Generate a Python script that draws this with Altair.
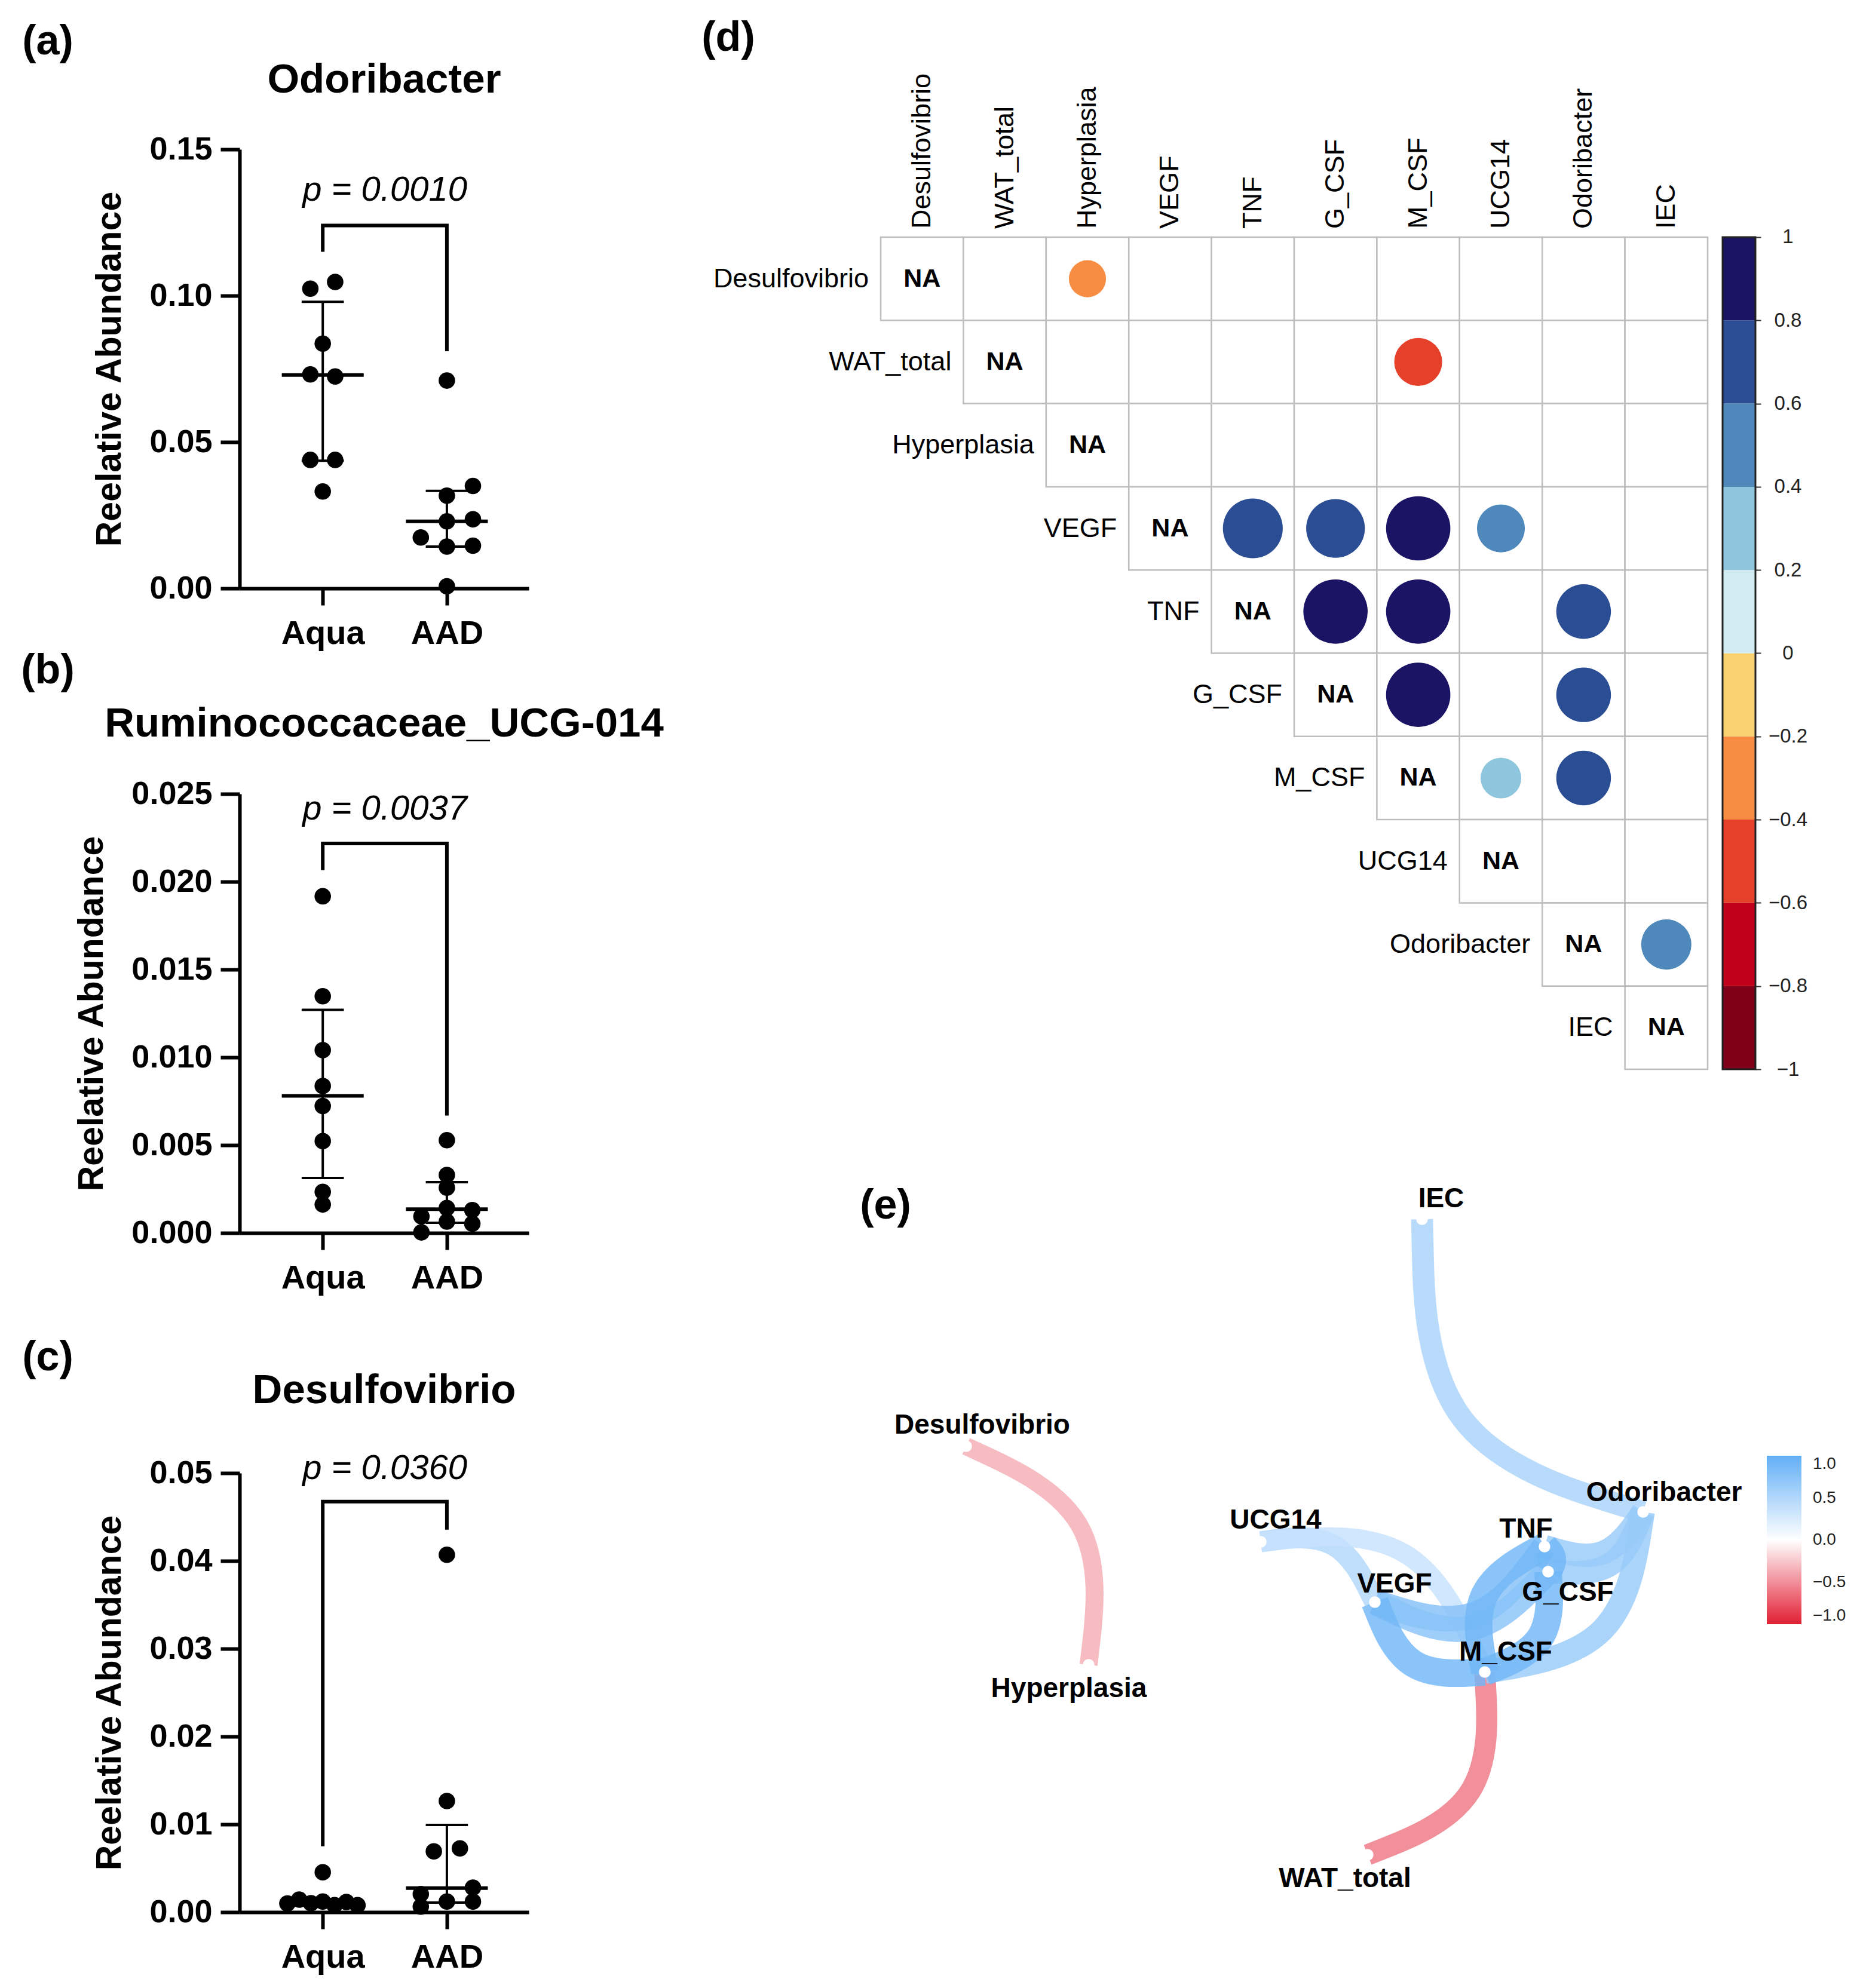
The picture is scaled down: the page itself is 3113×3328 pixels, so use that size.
import altair as alt
import pandas as pd

FONT = "Liberation Sans"
BLACK = "#000000"

# ---------------- (a)-(c) relative abundance ----------------
GROUP_LABELS = ["Aqua", "AAD"]
Y_TITLE = "Reelative Abundance"

# (a) Odoribacter
a_aqua = [0.1024, 0.1047, 0.0836, 0.0731, 0.0724, 0.0439, 0.0439, 0.0331]
a_aqua_jit = [-0.10, 0.10, 0.00, -0.10, 0.10, -0.10, 0.10, 0.00]
a_aad = [0.0710, 0.0350, 0.0317, 0.0229, 0.0236, 0.0174, 0.0143, 0.0146, 0.0007]
a_aad_jit = [0.00, 0.21, 0.00, 0.00, 0.21, -0.21, 0.00, 0.21, 0.00]
a_median = [0.0729, 0.0229]
a_q1 = [0.0436, 0.0143]
a_q3 = [0.0979, 0.0333]
a_bracket = [0.1150, 0.1240, 0.0810]
a_ptext, a_py = "p = 0.0010", 0.1360
a_ticks = [0.0, 0.05, 0.10, 0.15]

# (b) Ruminococcaceae_UCG-014
b_aqua = [0.01917, 0.01348, 0.01041, 0.00837, 0.00723, 0.00523, 0.00234, 0.00162]
b_aqua_jit = [0, 0, 0, 0, 0, 0, 0, 0]
b_aad = [0.00528, 0.00330, 0.00258, 0.00142, 0.00130, 0.00094, 0.00065, 0.00053, 0.00003]
b_aad_jit = [0.0, 0.0, 0.0, 0.0, 0.205, -0.205, 0.0, 0.205, -0.205]
b_median = [0.00781, 0.00135]
b_q1 = [0.00313, 0.00058]
b_q3 = [0.01270, 0.00289]
b_bracket = [0.02066, 0.02218, 0.00668]
b_ptext, b_py = "p = 0.0037", 0.0241
b_ticks = [0.0, 0.005, 0.010, 0.015, 0.020, 0.025]

# (c) Desulfovibrio
c_aqua = [0.00454, 0.00098, 0.00143, 0.00102, 0.00120, 0.00079, 0.00116, 0.00079]
c_aqua_jit = [0.0, -0.285, -0.19, -0.095, 0.0, 0.095, 0.19, 0.28]
c_aad = [0.0407, 0.01265, 0.00692, 0.00726, 0.00279, 0.00206, 0.00120, 0.00120, 0.00063]
c_aad_jit = [0.0, 0.0, -0.105, 0.105, 0.21, -0.21, 0.0, 0.21, -0.21]
c_median = [0.00120, 0.00274]
c_q1 = [0.00095, 0.00109]
c_q3 = [0.00140, 0.00993]
c_bracket = [0.0075, 0.04675, 0.04355]
c_ptext, c_py = "p = 0.0360", 0.0505
c_ticks = [0.0, 0.01, 0.02, 0.03, 0.04, 0.05]


def text_layer(txt, x, y, size, weight="bold", style="normal", align="center"):
    return alt.Chart(pd.DataFrame({"t": [txt]})).mark_text(
        font=FONT, fontSize=size, fontWeight=weight, fontStyle=style,
        color=BLACK, align=align, baseline="middle"
    ).encode(x=alt.value(x), y=alt.value(y), text="t:N")


def scatter_panel(letter, title, ticks, fmt, aqua, aqua_jit, aad, aad_jit,
                  med, q1, q3, bracket, ptext, py, letter_y, title_y):
    W, H = 484, 735
    xs = alt.Scale(domain=[0.33, 2.66], nice=False, zero=False)
    ys = alt.Scale(domain=[ticks[0], ticks[-1]], nice=False, zero=False)
    pts = pd.DataFrame({
        "x": [1 + j for j in aqua_jit] + [2 + j for j in aad_jit],
        "y": list(aqua) + list(aad),
    })
    summ = pd.DataFrame({"g": [1, 2], "med": med, "q1": q1, "q3": q3})
    summ["mlo"] = summ["g"] - 0.33
    summ["mhi"] = summ["g"] + 0.33
    caps = pd.DataFrame({"g": [1, 2, 1, 2], "v": list(q1) + list(q3)})
    caps["lo"] = caps["g"] - 0.17
    caps["hi"] = caps["g"] + 0.17
    br = pd.DataFrame({"x": [1, 1, 2, 2],
                       "y": [bracket[0], bracket[1], bracket[1], bracket[2]],
                       "o": [0, 1, 2, 3]})
    ptab = pd.DataFrame({"x": [1.5], "y": [py], "t": [ptext]})

    xaxis = alt.Axis(values=[1, 2],
                     labelExpr=f"datum.value == 1 ? '{GROUP_LABELS[0]}' : '{GROUP_LABELS[1]}'",
                     title=None, grid=False, domainColor=BLACK, domainWidth=6,
                     tickColor=BLACK, tickWidth=6, tickSize=28, labelFont=FONT,
                     labelFontWeight="bold", labelFontSize=56, labelColor=BLACK,
                     labelPadding=20, labelFlush=False, labelOverlap=False)
    yaxis = alt.Axis(values=ticks, format=fmt, title=Y_TITLE, grid=False,
                     domainColor=BLACK, domainWidth=6, tickColor=BLACK, tickWidth=6,
                     tickSize=32, labelFont=FONT, labelFontWeight="bold",
                     labelFontSize=54, labelColor=BLACK, labelPadding=14,
                     labelFlush=False, labelOverlap=False,
                     titleFont=FONT, titleFontWeight="bold", titleFontSize=59,
                     titleColor=BLACK, titlePadding=36)

    def X(f):
        return alt.X(f, scale=xs, axis=xaxis)

    def Y(f):
        return alt.Y(f, scale=ys, axis=yaxis)

    dots = alt.Chart(pts).mark_circle(size=760, color=BLACK, opacity=1).encode(
        x=X("x:Q"), y=Y("y:Q"))
    medl = alt.Chart(summ).mark_rule(color=BLACK, strokeWidth=6).encode(
        x=X("mlo:Q"), x2="mhi:Q", y=Y("med:Q"))
    whisk = alt.Chart(summ).mark_rule(color=BLACK, strokeWidth=4).encode(
        x=X("g:Q"), y=Y("q1:Q"), y2="q3:Q")
    capl = alt.Chart(caps).mark_rule(color=BLACK, strokeWidth=4).encode(
        x=X("lo:Q"), x2="hi:Q", y=Y("v:Q"))
    brl = alt.Chart(br).mark_line(color=BLACK, strokeWidth=6, strokeJoin="miter",
                                  strokeCap="butt").encode(
        x=X("x:Q"), y=Y("y:Q"), order="o:Q")
    ptx = alt.Chart(ptab).mark_text(font=FONT, fontSize=58, fontStyle="italic",
                                    color=BLACK, baseline="middle").encode(
        x=X("x:Q"), y=Y("y:Q"), text="t:N")
    ttl = text_layer(title, 242, title_y, 69)
    let = text_layer(letter, -321, letter_y, 70)
    return alt.layer(brl, whisk, capl, medl, dots, ptx, ttl, let).properties(width=W, height=H)


pa = scatter_panel("(a)", "Odoribacter", a_ticks, ".2f", a_aqua, a_aqua_jit, a_aad, a_aad_jit,
                   a_median, a_q1, a_q3, a_bracket, a_ptext, a_py, -180, -116)
pb = scatter_panel("(b)", "Ruminococcaceae_UCG-014", b_ticks, ".3f", b_aqua, b_aqua_jit, b_aad,
                   b_aad_jit, b_median, b_q1, b_q3, b_bracket, b_ptext, b_py, -206, -117)
pc = scatter_panel("(c)", "Desulfovibrio", c_ticks, ".2f", c_aqua, c_aqua_jit, c_aad, c_aad_jit,
                   c_median, c_q1, c_q3, c_bracket, c_ptext, c_py, -193, -138)

# ---------------- (d) correlation matrix ----------------
corr_vars = ["Desulfovibrio", "WAT_total", "Hyperplasia", "VEGF", "TNF", "G_CSF",
             "M_CSF", "UCG14", "Odoribacter", "IEC"]
corr_row = ["Desulfovibrio", "WAT_total", "VEGF", "VEGF", "VEGF", "VEGF", "TNF", "TNF",
            "TNF", "G_CSF", "G_CSF", "M_CSF", "M_CSF", "Odoribacter"]
corr_col = ["Hyperplasia", "M_CSF", "TNF", "G_CSF", "M_CSF", "UCG14", "G_CSF", "M_CSF",
            "Odoribacter", "M_CSF", "Odoribacter", "UCG14", "Odoribacter", "IEC"]
corr_r = [-0.30, -0.50, 0.78, 0.75, 0.90, 0.50, 0.90, 0.90, 0.65, 0.90, 0.65, 0.36, 0.65, 0.55]

cbar_lo = [-1.0, -0.8, -0.6, -0.4, -0.2, 0.0, 0.2, 0.4, 0.6, 0.8]
cbar_hi = [-0.8, -0.6, -0.4, -0.2, 0.0, 0.2, 0.4, 0.6, 0.8, 1.0]
cbar_colors = ["#7F0019", "#C00019", "#E5402A", "#F68D42", "#F8D26F",
               "#D3ECF3", "#8DC6DD", "#4F89BB", "#2B4D94", "#1B1464"]
cbar_ticks = [-1, -0.8, -0.6, -0.4, -0.2, 0, 0.2, 0.4, 0.6, 0.8, 1]

n = len(corr_vars)
idx = {v: i for i, v in enumerate(corr_vars)}
dxs = alt.Scale(domain=[0, n], nice=False, zero=False)
dys = alt.Scale(domain=[-1.055, n], nice=False, zero=False, reverse=True)

cells = pd.DataFrame([{"c0": j, "c1": j + 1, "r0": i, "r1": i + 1}
                      for i in range(n) for j in range(i, n)])
circ = pd.DataFrame({"cx": [idx[c] + 0.5 for c in corr_col],
                     "cy": [idx[r] + 0.5 for r in corr_row],
                     "r": corr_r, "absr": [abs(v) for v in corr_r]})
diag = pd.DataFrame({"x": [i + 0.5 for i in range(n)], "y": [i + 0.5 for i in range(n)],
                     "t": ["NA"] * n})
rowlab = pd.DataFrame({"x": [float(i) for i in range(n)], "y": [i + 0.5 for i in range(n)],
                       "t": corr_vars})
collab = pd.DataFrame({"x": [i + 0.5 for i in range(n)], "y": [0.0] * n, "t": corr_vars})

grid = alt.Chart(cells).mark_rect(fill="white", stroke="#BDBDBD", strokeWidth=2.5).encode(
    x=alt.X("c0:Q", scale=dxs, axis=None), x2="c1:Q",
    y=alt.Y("r0:Q", scale=dys, axis=None), y2="r1:Q")
dots_d = alt.Chart(circ).mark_circle(opacity=1).encode(
    x=alt.X("cx:Q", scale=dxs, axis=None),
    y=alt.Y("cy:Q", scale=dys, axis=None),
    size=alt.Size("absr:Q", scale=alt.Scale(domain=[0, 1], range=[0, 12870]), legend=None),
    color=alt.Color("r:Q", scale=alt.Scale(type="threshold", domain=cbar_lo[1:],
                                           range=cbar_colors), legend=None))
na_t = alt.Chart(diag).mark_text(font=FONT, fontSize=43, fontWeight="bold", color=BLACK,
                                 baseline="middle").encode(
    x=alt.X("x:Q", scale=dxs, axis=None), y=alt.Y("y:Q", scale=dys, axis=None), text="t:N")
row_t = alt.Chart(rowlab).mark_text(font=FONT, fontSize=45, color=BLACK, align="right",
                                    baseline="middle", dx=-20).encode(
    x=alt.X("x:Q", scale=dxs, axis=None), y=alt.Y("y:Q", scale=dys, axis=None), text="t:N")
col_t = alt.Chart(collab).mark_text(font=FONT, fontSize=45, color=BLACK, align="left",
                                    baseline="middle", angle=270, dx=14).encode(
    x=alt.X("x:Q", scale=dxs, axis=None), y=alt.Y("y:Q", scale=dys, axis=None), text="t:N")
let_d = text_layer("(d)", -255, -186, 70)
pd_ = alt.layer(grid, dots_d, na_t, row_t, col_t, let_d).properties(width=1384, height=1540)

cbdf = pd.DataFrame({"lo": cbar_lo, "hi": cbar_hi, "col": cbar_colors})
cby = alt.Scale(domain=[-1, 1.211], nice=False, zero=False)
cb_axis = alt.Axis(orient="right", values=cbar_ticks, format="~g", title=None,
                   domain=False, grid=False, tickColor="#333", tickWidth=2,
                   tickSize=9, labelFont=FONT, labelFontSize=33, labelColor="#222",
                   labelAlign="center", labelPadding=45, labelFlush=False,
                   labelOverlap=False)
cb_rect = alt.Chart(cbdf).mark_rect().encode(
    y=alt.Y("lo:Q", scale=cby, axis=cb_axis),
    y2="hi:Q", fill=alt.Fill("col:N", scale=None))
cb_box = alt.Chart(pd.DataFrame({"lo": [-1.0], "hi": [1.0]})).mark_rect(
    fillOpacity=0, stroke="#222", strokeWidth=3).encode(
    y=alt.Y("lo:Q", scale=cby, axis=cb_axis), y2="hi:Q")
cbar = alt.layer(cb_rect, cb_box).properties(width=55, height=1540)

# ---------------- (e) correlation network ----------------
net_nodes = ["IEC", "Odoribacter", "TNF", "G_CSF", "VEGF", "M_CSF", "UCG14",
             "Desulfovibrio", "Hyperplasia", "WAT_total"]
net_x = [9.06, 12.76, 11.11, 11.17, 8.27, 10.11, 6.36, 1.43, 3.48, 8.15]
net_y = [11.60, 6.70, 6.12, 5.70, 5.19, 4.02, 6.20, 7.80, 4.14, 0.96]
lab_x = [9.38, 13.11, 10.80, 11.50, 8.60, 10.46, 6.61, 1.70, 3.15, 7.77]
lab_y = [11.94, 7.02, 6.41, 5.35, 5.49, 4.35, 6.56, 8.15, 3.74, 0.56]
edge_from = ["Desulfovibrio", "M_CSF", "Odoribacter", "Odoribacter", "Odoribacter",
             "Odoribacter", "UCG14", "UCG14", "TNF", "G_CSF", "M_CSF", "M_CSF", "G_CSF", "TNF"]
edge_to = ["Hyperplasia", "WAT_total", "IEC", "M_CSF", "TNF", "G_CSF", "VEGF", "M_CSF",
           "VEGF", "VEGF", "VEGF", "TNF", "M_CSF", "G_CSF"]
BEND = 0.36

rlookup = {frozenset((a, b)): r for a, b, r in zip(corr_row, corr_col, corr_r)}
pos = {nm: (x, y) for nm, x, y in zip(net_nodes, net_x, net_y)}
erows = []
for k, (s, t) in enumerate(zip(edge_from, edge_to)):
    (x0, y0), (x2, y2) = pos[s], pos[t]
    mx, my = (x0 + x2) / 2, (y0 + y2) / 2
    ddx, ddy = x2 - x0, y2 - y0
    cx, cy = mx - ddy * BEND, my + ddx * BEND
    r = rlookup[frozenset((s, t))]
    for o, (px, py) in enumerate([(x0, y0), (cx, cy), (x2, y2)]):
        erows.append({"e": k, "o": o, "x": px, "y": py, "er": r, "w": abs(r)})
edges = pd.DataFrame(erows)
nodes = pd.DataFrame({"x": net_x, "y": net_y})
labs = pd.DataFrame({"x": lab_x, "y": lab_y, "t": net_nodes})

exs = alt.Scale(domain=[0, 14.78], nice=False, zero=False)
eys = alt.Scale(domain=[0, 12.10], nice=False, zero=False)

edge_l = alt.Chart(edges).mark_line(interpolate="basis", strokeCap="butt").encode(
    x=alt.X("x:Q", scale=exs, axis=None),
    y=alt.Y("y:Q", scale=eys, axis=None),
    detail="e:N", order="o:Q",
    stroke=alt.Stroke("er:Q", scale=alt.Scale(domain=[-1, 0, 1], interpolate="rgb",
                                              range=["#E21E34", "#FFFFFF", "#62AFF6"]),
                      legend=alt.Legend(orient="none", legendX=1483, legendY=446,
                                        direction="vertical", title=None,
                                        gradientLength=282, gradientThickness=58,
                                        values=[-1, -0.5, 0, 0.5, 1], format=".1f",
                                        labelFont=FONT, labelFontSize=28,
                                        labelColor="#222", labelOffset=19,
                                        gradientStrokeWidth=0)),
    opacity=alt.condition(alt.datum.er < 0, alt.value(1.0), alt.value(0.82)),
    strokeWidth=alt.StrokeWidth("w:Q", scale=alt.Scale(domain=[0.3, 0.9], range=[30, 46],
                                                       zero=False),
                                legend=None))
node_l = alt.Chart(nodes).mark_circle(size=380, color="white", opacity=1).encode(
    x=alt.X("x:Q", scale=exs, axis=None), y=alt.Y("y:Q", scale=eys, axis=None))
lab_l = alt.Chart(labs).mark_text(font=FONT, fontSize=46, fontWeight="bold", color=BLACK,
                                  baseline="middle").encode(
    x=alt.X("x:Q", scale=exs, axis=None), y=alt.Y("y:Q", scale=eys, axis=None), text="t:N")
let_e = text_layer("(e)", 8, 28, 70)
pe = alt.layer(edge_l, node_l, lab_l, let_e).properties(width=1478, height=1210)

# ---------------- assemble ----------------
IND = dict(color="independent", size="independent", fill="independent",
           stroke="independent", strokeWidth="independent", opacity="independent")
left = alt.vconcat(alt.vconcat(pa, pb, spacing=0), pc, spacing=71)
drow = alt.hconcat(pd_, cbar, spacing=21).resolve_scale(**IND)
right = alt.vconcat(drow, pe, spacing=160).resolve_scale(**IND)
chart = alt.hconcat(left, right, spacing=63).resolve_scale(**IND).properties(
    padding={"left": 27, "top": 21, "right": 5, "bottom": 5},
    background="white",
).configure(font=FONT).configure_view(stroke=None)

chart.save("out.html", embed_options={"renderer": "svg", "actions": False})
